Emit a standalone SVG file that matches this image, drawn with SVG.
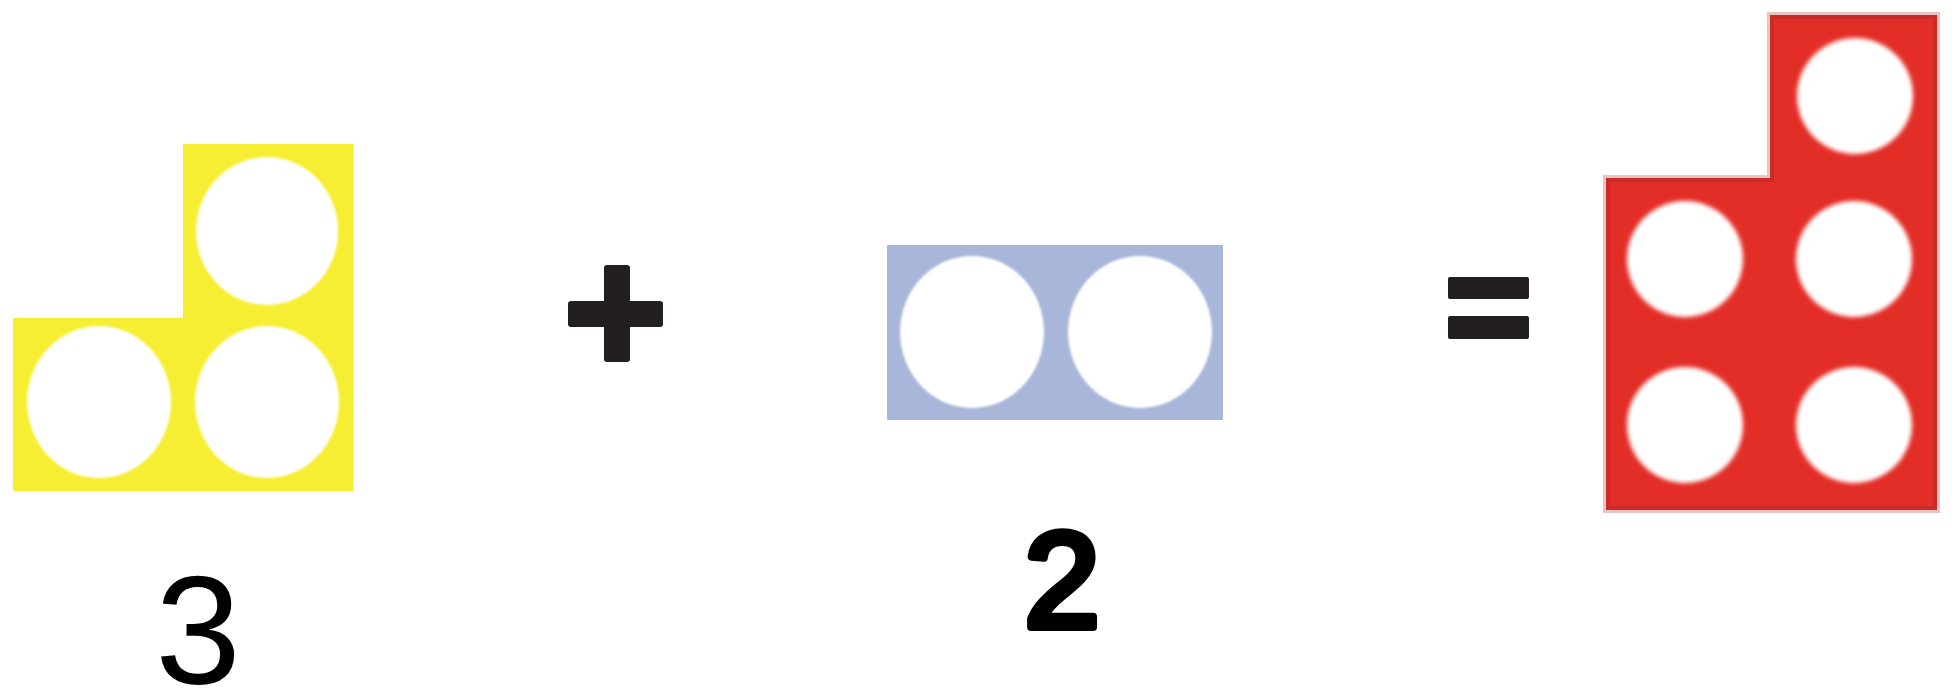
<svg xmlns="http://www.w3.org/2000/svg" width="1959" height="695" viewBox="0 0 1959 695">
  <defs>
    <filter id="soft" x="-20%" y="-20%" width="140%" height="140%">
      <feGaussianBlur stdDeviation="1.2"/>
    </filter>
    <filter id="softer" x="-20%" y="-20%" width="140%" height="140%">
      <feGaussianBlur stdDeviation="2.2"/>
    </filter>
  </defs>
  <style>
    .hole { fill: #ffffff; }
    .yellow { fill: #f6ee33; }
    .blue { fill: #a8b6da; }
    .red { fill: #e32e27; stroke: #c92a2a; stroke-width: 4; }
    .redhalo { fill: none; stroke: #ebc3c3; stroke-width: 10; }
    .op { fill: #231f20; }
    .num { font-family: "Liberation Sans", "DejaVu Sans", sans-serif; fill: #000; text-anchor: middle; stroke: #000; stroke-linejoin: round; stroke-linecap: round; }
  </style>
  <rect width="1959" height="695" fill="#ffffff"/>

  <g id="yellow-three">
    <path class="yellow" d="M183 144 H353 V491 H13 V318 H183 Z"/>
    <g filter="url(#soft)">
      <ellipse class="hole" cx="267" cy="231" rx="71" ry="74"/>
      <ellipse class="hole" cx="99" cy="402" rx="72" ry="76"/>
      <ellipse class="hole" cx="267" cy="402" rx="72" ry="76"/>
    </g>
  </g>

  <g id="label-three">
    <text class="num" x="198" y="684" font-size="154" stroke-width="0">3</text>
  </g>

  <g id="plus">
    <rect class="op" x="604" y="265" width="26" height="97" rx="3"/>
    <rect class="op" x="568" y="301" width="95" height="26" rx="3"/>
  </g>

  <g id="blue-two">
    <rect class="blue" x="887" y="245" width="336" height="175"/>
    <g filter="url(#soft)">
      <ellipse class="hole" cx="972" cy="332" rx="72" ry="76"/>
      <ellipse class="hole" cx="1140" cy="332" rx="72" ry="76"/>
    </g>
  </g>

  <g id="label-two">
    <text class="num" x="1062" y="627" font-size="136" stroke-width="8">2</text>
  </g>

  <g id="equals">
    <rect class="op" x="1448" y="277" width="81" height="22" rx="2"/>
    <rect class="op" x="1448" y="316" width="81" height="23" rx="2"/>
  </g>

  <g id="red-five">
    <path class="redhalo" d="M1772 17 H1935 V508 H1608 V180 H1772 Z"/>
    <path class="red" d="M1772 17 H1935 V508 H1608 V180 H1772 Z"/>
    <g filter="url(#softer)">
      <circle class="hole" cx="1855" cy="96" r="58"/>
      <circle class="hole" cx="1685" cy="259" r="58"/>
      <circle class="hole" cx="1854" cy="259" r="58"/>
      <circle class="hole" cx="1685" cy="425" r="58"/>
      <circle class="hole" cx="1854" cy="425" r="58"/>
    </g>
  </g>
</svg>
